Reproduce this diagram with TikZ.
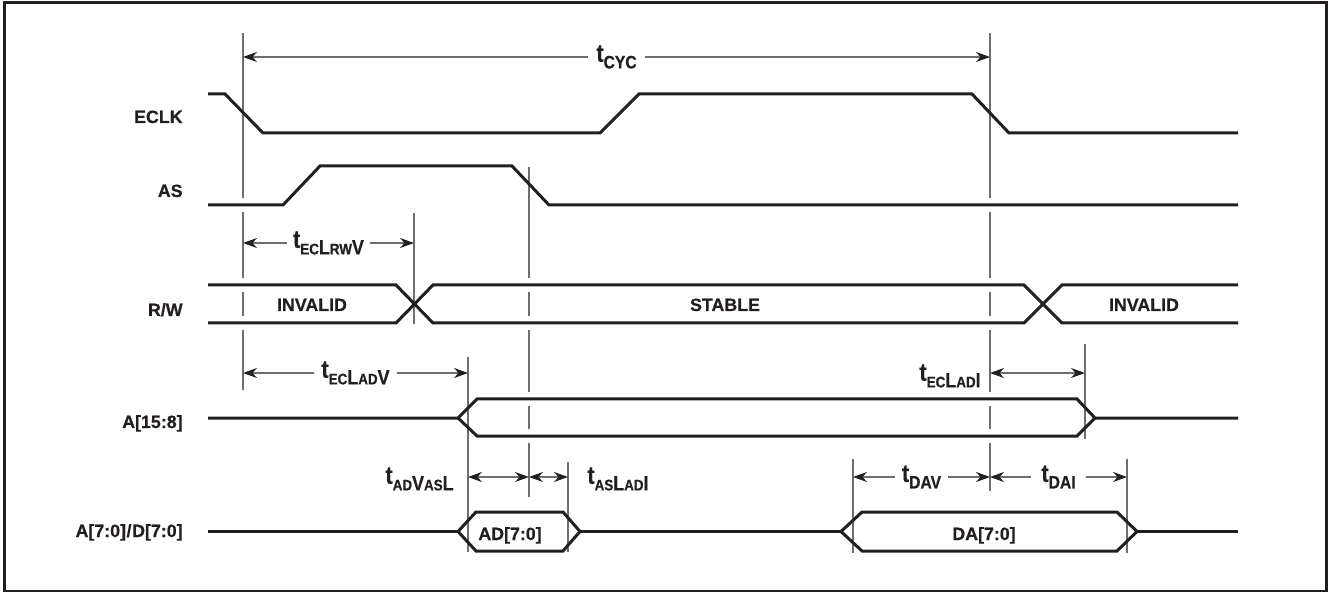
\documentclass[tikz,border=0pt]{standalone}
\usepackage{fontspec}
\setmainfont{Liberation Sans}[BoldFeatures={FakeBold=0.5}]
\newfontfamily\condfont{Liberation Sans}[FakeStretch=0.87,BoldFeatures={FakeBold=0.5}]
\usetikzlibrary{arrows.meta}
\definecolor{ink}{HTML}{231F20}
\definecolor{guidecol}{HTML}{6D6E70}
\newcommand{\tsm}[1]{{\fontsize{7.7}{8}\selectfont #1}}
\newcommand{\tbg}[1]{{\fontsize{10.3}{11}\selectfont #1}}
\newcommand{\tmd}[1]{{\fontsize{9}{10}\selectfont #1}}
\newcommand{\tlab}[1]{{\condfont\bfseries{\fontsize{12.5}{13}\selectfont t}\raisebox{-3.3pt}{#1}}}
\begin{document}
\begin{tikzpicture}[x=0.5pt,y=-0.5pt,
  font={\fontsize{8.9}{10}\selectfont\bfseries},
  sig/.style={draw=ink, line width=1.5pt, line join=miter},
  guide/.style={draw=guidecol, line width=0.6pt},
  dim/.style={draw=guidecol, line width=0.6pt,
    {Stealth[length=7pt,width=5pt,color=ink]}-{Stealth[length=7pt,width=5pt,color=ink]}},
  dlabel/.style={fill=white, inner ysep=1pt, inner xsep=3.5pt, text=ink},
  siglabel/.style={anchor=base east, inner sep=0pt, text=ink},
  buslabel/.style={anchor=base, inner sep=0pt, text=ink}]
\useasboundingbox (0,0) rectangle (1334,593);
\fill[white] (0,0) rectangle (1334,593);
% frame
\draw[draw=ink, line width=1.2pt] (4.5,2.5) rectangle (1326.5,591);

% guide lines (broken where they cross horizontal signal lines)
\draw[guide] (243,33) -- (243,198) (243,212) -- (243,278) (243,292) -- (243,316) (243,330) -- (243,390);
\draw[guide] (529,167) -- (529,278) (529,292) -- (529,316) (529,330) -- (529,392) (529,406) -- (529,429) (529,443) -- (529,497);
\draw[guide] (990,33) -- (990,198) (990,212) -- (990,278) (990,292) -- (990,316) (990,330) -- (990,392) (990,406) -- (990,429) (990,443) -- (990,491);
\draw[guide] (414,213) -- (414,324);
\draw[guide] (468,357) -- (468,552);
\draw[guide] (1085,344) -- (1085,439);
\draw[guide] (568,462) -- (568,552);
\draw[guide] (853,459) -- (853,553);
\draw[guide] (1127,459) -- (1127,553);

% signal names
\node[siglabel] (nECLK) at (183,123) {ECLK};
\node[siglabel] (nAS) at (183,197) {AS};
\node[siglabel] (nRW) at (183,316) {R/W};
\node[siglabel] (nA158) at (183,428) {A[15:8]};
\node[siglabel] (nAD) at (183,537) {A[7:0]\kern0.3pt/\kern0.3pt D[7:0]};

% ECLK
\draw[sig] (208,94) -- (225,94) -- (263,133) -- (600,133) -- (639,94) -- (972,94) -- (1009,133) -- (1238,133);
% AS
\draw[sig] (208,205) -- (283,205) -- (320,166) -- (512,166) -- (549,205) -- (1238,205);
% R/W
\draw[sig] (208,285) -- (396,285) -- (433,323) -- (1024,323) -- (1062,285) -- (1238,285);
\draw[sig] (208,323) -- (396,323) -- (433,285) -- (1024,285) -- (1062,323) -- (1238,323);
\node[buslabel] (rw1) at (312,311) {INVALID};
\node[buslabel] (rw2) at (725,311) {STABLE};
\node[buslabel] (rw3) at (1144,311) {INVALID};
% A[15:8]
\draw[sig] (208,418) -- (458,418) -- (477,399) -- (1077,399) -- (1095,418) -- (1238,418);
\draw[sig] (458,418) -- (477,436) -- (1077,436) -- (1095,418);
% A[7:0]/D[7:0]
\draw[sig] (208,531.5) -- (458,531.5);
\draw[sig] (458,531.5) -- (476,512) -- (563,512) -- (580,531.5) -- (563,551) -- (476,551) -- cycle;
\draw[sig] (580,531.5) -- (841,531.5);
\draw[sig] (841,531.5) -- (862,512) -- (1117,512) -- (1137,531.5) -- (1117,551) -- (862,551) -- cycle;
\draw[sig] (1137,531.5) -- (1238,531.5);
\node[buslabel] (ad) at (510,540) {AD[7:0]};
\node[buslabel] (da) at (984,540) {DA[7:0]};

% dimension end points
\coordinate (cycA) at (243,57);  \coordinate (cycB) at (990,57);
\coordinate (rwA) at (243,243);  \coordinate (rwB) at (414,243);
\coordinate (advA) at (243,373); \coordinate (advB) at (468,373);
\coordinate (adiA) at (990,373); \coordinate (adiB) at (1085,373);
\coordinate (vasA) at (468,477); \coordinate (vasB) at (529,477);
\coordinate (aslA) at (529,477); \coordinate (aslB) at (568,477);
\coordinate (davA) at (853,477); \coordinate (davB) at (990,477);
\coordinate (daiA) at (990,477); \coordinate (daiB) at (1127,477);

\draw[dim] (cycA) -- (cycB) node[midway, dlabel, inner xsep=4pt] (lcyc) {\tlab{\tmd{CYC}}};
\draw[dim] (rwA) -- (rwB) node[midway, dlabel, inner xsep=3pt] (lrw) {\tlab{\tsm{EC}\tbg{L}\tsm{RW}\tbg{V}}};
\draw[dim] (advA) -- (advB) node[midway, dlabel] (ladv) {\tlab{\tsm{EC}\tbg{L}\tsm{AD}\tbg{V}}};
\draw[dim] (adiA) -- (adiB);
\node[anchor=east, inner sep=0pt, text=ink] (ladi) at (981,376) {\tlab{\tsm{EC}\tbg{L}\tsm{AD}\tbg{I}}};
\draw[dim] (vasA) -- (vasB);
\node[anchor=east, inner sep=0pt, text=ink] (lvas) at (454,479) {\tlab{\tsm{AD}\tbg{V}\tsm{AS}\tbg{L}}};
\draw[dim] (aslA) -- (aslB);
\node[anchor=west, inner sep=0pt, text=ink] (lasl) at (587,479) {\tlab{\tsm{AS}\tbg{L}\tsm{AD}\tbg{I}}};
\draw[dim] (davA) -- (davB) node[midway, dlabel, inner xsep=3.5pt] (ldav) {\tlab{\tmd{DAV}}};
\draw[dim] (daiA) -- (daiB) node[midway, dlabel, inner xsep=5pt] (ldai) {\tlab{\tmd{DAI}}};
\end{tikzpicture}
\end{document}
